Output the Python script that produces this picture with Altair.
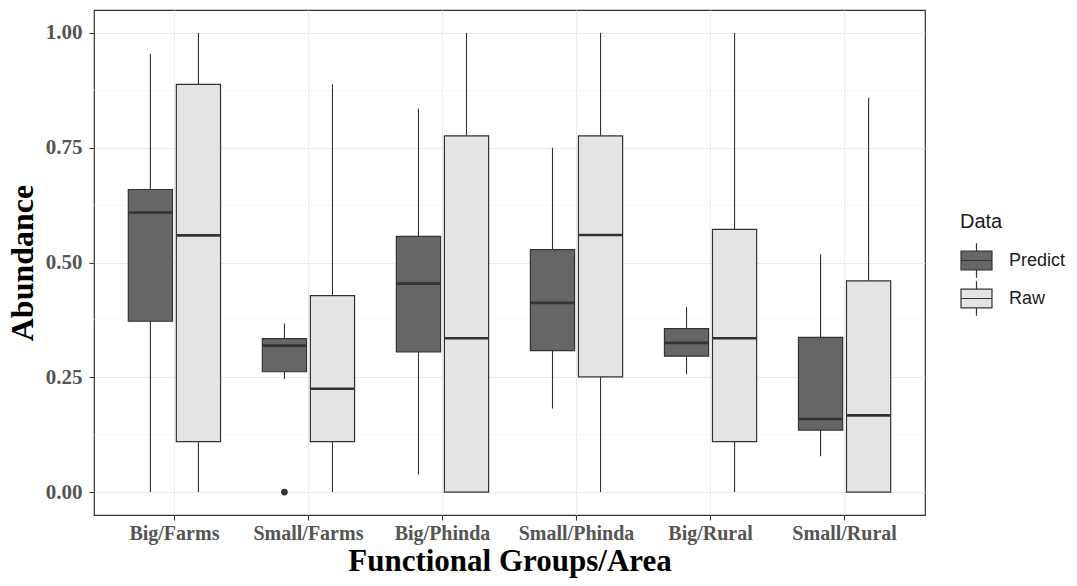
import altair as alt
import pandas as pd

categories = ["Big/Farms", "Small/Farms", "Big/Phinda", "Small/Phinda", "Big/Rural", "Small/Rural"]
groups = ["Predict", "Raw"]

predict_min = [0.0, 0.246, 0.038, 0.182, 0.257, 0.078]
predict_q1 = [0.372, 0.262, 0.305, 0.308, 0.296, 0.135]
predict_median = [0.609, 0.319, 0.454, 0.412, 0.325, 0.159]
predict_q3 = [0.659, 0.334, 0.557, 0.528, 0.356, 0.337]
predict_max = [0.954, 0.367, 0.835, 0.750, 0.403, 0.518]

raw_min = [0.0, 0.0, 0.0, 0.0, 0.0, 0.0]
raw_q1 = [0.110, 0.110, 0.0, 0.251, 0.110, 0.0]
raw_median = [0.559, 0.225, 0.335, 0.560, 0.335, 0.167]
raw_q3 = [0.888, 0.428, 0.776, 0.776, 0.572, 0.460]
raw_max = [1.0, 0.888, 1.0, 1.0, 1.0, 0.859]

outlier_category = ["Small/Farms"]
outlier_group = ["Predict"]
outlier_value = [0.0]

y_ticks = [0.0, 0.25, 0.5, 0.75, 1.0]
y_minor = [0.125, 0.375, 0.625, 0.875]

rows = []
for g, mn, q1, md, q3, mx in [
    ("Predict", predict_min, predict_q1, predict_median, predict_q3, predict_max),
    ("Raw", raw_min, raw_q1, raw_median, raw_q3, raw_max),
]:
    for i, c in enumerate(categories):
        rows.append({"category": c, "group": g, "lo": mn[i], "q1": q1[i],
                     "median": md[i], "q3": q3[i], "hi": mx[i]})
df = pd.DataFrame(rows)
out_df = pd.DataFrame({"category": outlier_category, "group": outlier_group, "value": outlier_value})
minor_df = pd.DataFrame({"y": y_minor})

SERIF = "Liberation Serif"
SANS = "Liberation Sans"
DARK = "#333333"

x_enc = alt.X("category:N", sort=categories,
              scale=alt.Scale(paddingInner=0, paddingOuter=0.1),
              axis=alt.Axis(title="Functional Groups/Area", labelAngle=0))
xo_enc = alt.XOffset("group:N", sort=groups,
                     scale=alt.Scale(paddingInner=0.08, paddingOuter=0.435))
y_scale = alt.Scale(domain=[-0.05, 1.05], nice=False, zero=False)
y_axis = alt.Axis(title="Abundance", values=y_ticks, format=".2f")

base = alt.Chart(df)

minor = alt.Chart(minor_df).mark_rule(color="#F3F3F3", strokeWidth=0.7).encode(
    y=alt.Y("y:Q", scale=y_scale, axis=y_axis)
)

whisk_lo = base.mark_rule(color=DARK, strokeWidth=1.1).encode(
    x=x_enc, xOffset=xo_enc,
    y=alt.Y("lo:Q", scale=y_scale, axis=y_axis), y2="q1:Q"
)
whisk_hi = base.mark_rule(color=DARK, strokeWidth=1.1).encode(
    x=x_enc, xOffset=xo_enc,
    y=alt.Y("q3:Q", scale=y_scale, axis=y_axis), y2="hi:Q"
)

box_path = "M0,-1.12V-0.6 M-1,-0.6H1V0.6H-1Z M-1,0H1 M0,0.6V1.12"

boxes = base.mark_bar(stroke=DARK, strokeWidth=1.2).encode(
    x=x_enc, xOffset=xo_enc,
    y=alt.Y("q1:Q", scale=y_scale, axis=y_axis), y2="q3:Q",
    fill=alt.Fill("group:N", sort=groups,
                  scale=alt.Scale(domain=groups, range=["#666666", "#E4E4E4"]),
                  legend=alt.Legend(title="Data", orient="none", legendX=866, legendY=202,
                                    symbolType=box_path, symbolSize=961,
                                    symbolStrokeColor=DARK, symbolStrokeWidth=1.2,
                                    symbolOpacity=1,
                                    titleFont=SANS, titleFontSize=20, titleFontWeight="normal",
                                    titleColor="#1A1A1A", titlePadding=12,
                                    labelFont=SANS, labelFontSize=18, labelColor="#1A1A1A",
                                    labelOffset=16, rowPadding=-3, padding=0))
)

medians = base.mark_tick(color=DARK, thickness=2.6, size=44, opacity=1).encode(
    x=x_enc, xOffset=xo_enc,
    y=alt.Y("median:Q", scale=y_scale, axis=y_axis)
)

outliers = alt.Chart(out_df).mark_circle(color=DARK, size=45, opacity=1).encode(
    x=x_enc, xOffset=xo_enc,
    y=alt.Y("value:Q", scale=y_scale, axis=y_axis)
)

chart = alt.layer(minor, whisk_lo, whisk_hi, boxes, medians, outliers).properties(
    width=831, height=505,
    autosize=alt.AutoSizeParams(type="none"),
    padding={"left": 94, "top": 10, "right": 152, "bottom": 71},
).configure_view(
    stroke=DARK, strokeWidth=1.2
).configure_axis(
    domain=False,
    grid=True, gridColor="#EBEBEB", gridWidth=1,
    ticks=True, tickColor=DARK, tickSize=5, tickWidth=1.1,
    labelFont=SERIF, labelFontWeight="bold", labelColor="#555555", labelFontSize=20,
    titleFont=SERIF, titleFontWeight="bold", titleColor="#000000", titleFontSize=31,
).configure_axisX(
    labelPadding=3, titlePadding=3
).configure_axisY(
    labelFontSize=21, labelPadding=7, titlePadding=6, titleFontSize=32
)

chart.save("out.html", embed_options={"renderer": "svg", "actions": False})
